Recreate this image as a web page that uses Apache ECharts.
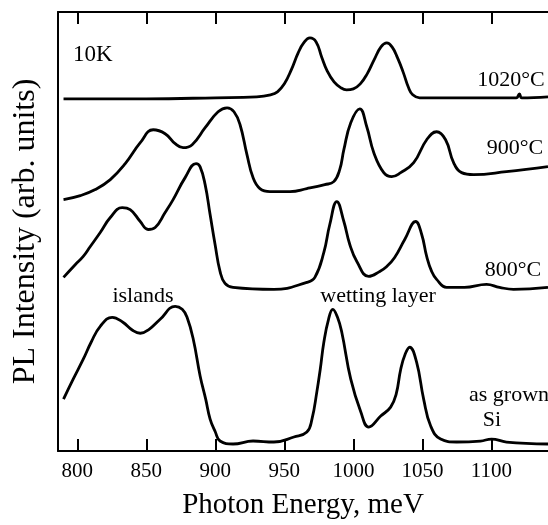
<!DOCTYPE html>
<html>
<head>
<meta charset="utf-8">
<script src="https://cdn.jsdelivr.net/npm/echarts@6/dist/echarts.min.js"></script>
<style>
html,body{margin:0;padding:0;background:#fff;}
#chart{width:548px;height:525px;}
</style>
</head>
<body>
<div id="chart"></div>
<script>
// Photon energy tick values (meV)
var xTicks = [800, 850, 900, 950, 1000, 1050, 1100];

// 1020°C anneal
var energy1020 = [790, 850, 900, 930, 940, 945, 950, 955, 960, 964, 968.5, 973, 977, 981, 986, 991, 995, 1000, 1005, 1010, 1015, 1020, 1024.2, 1028, 1032, 1036, 1040, 1043, 1048, 1070, 1100, 1118, 1120.3, 1122, 1141];
var pl1020 = [353, 353, 354, 355, 357, 360, 368, 382, 399, 409, 414, 410, 395, 381, 370, 364, 362, 363, 368, 378, 392, 405, 409, 405, 394, 380, 364, 357, 354, 354, 354, 354, 358, 354, 355];

// 900°C anneal
var energy900 = [790, 802.2, 813, 823.9, 834.7, 845.6, 855, 863.6, 870.9, 876.6, 883.2, 892.6, 902, 908.5, 913.5, 917.9, 922.9, 927.3, 932.3, 939.6, 954.1, 966.3, 979.3, 985.8, 990.1, 993.1, 998.1, 1004.6, 1009.7, 1014.8, 1022, 1027.8, 1034.3, 1043.7, 1053.1, 1060.3, 1066.8, 1072.6, 1078.4, 1087.1, 1110.9, 1141];
var pl900 = [252, 256, 262, 272, 288, 309, 322, 318, 308, 304, 307, 324, 340, 344, 340, 327, 297, 274, 263, 260, 260, 263, 267, 270, 282, 302, 329, 343, 325, 299, 279, 275, 279, 289, 312, 320, 312, 289, 279, 277, 280, 285];

// 800°C anneal
var energy800 = [790, 798.6, 804.3, 809.4, 816.6, 823.9, 832.5, 838.3, 845.6, 851.3, 856.4, 863.6, 869.4, 878.1, 886, 888.9, 892.6, 896.2, 899.8, 903.4, 907, 912.8, 942.4, 966.3, 972.1, 978.6, 982.9, 988, 993.1, 997.4, 1002.5, 1011.1, 1019.1, 1024.2, 1029.9, 1037.2, 1045.1, 1049.5, 1053.1, 1056.7, 1060.3, 1067.5, 1080.5, 1096.5, 1105.9, 1116, 1141];
var pl800 = [174, 187, 195, 205, 219, 234, 244, 242, 230, 222, 224, 239, 252, 274, 288, 285, 267, 237, 207, 180, 168, 164, 162, 169, 174, 199, 227, 250, 230, 207, 190, 175, 180, 185, 194, 212, 230, 217, 195, 180, 172, 164, 164, 167, 164, 162, 164];

// as grown
var energyGrown = [790, 797, 804.3, 810, 816.6, 825.3, 833, 840, 845.6, 852, 860, 870.9, 876, 879.5, 884, 889, 893, 896.2, 900, 903.4, 912.8, 927.3, 942.4, 956.9, 966.3, 970, 973.5, 976, 978.6, 982, 985.1, 988.5, 991.6, 998.1, 1005.4, 1011.1, 1019.8, 1027, 1031, 1034.3, 1037.5, 1040.8, 1045.8, 1050.9, 1056, 1063.2, 1074.8, 1092.1, 1100.1, 1110.9, 1141];
var plGrown = [52, 72, 92, 109, 125, 134, 129, 121, 118, 122, 132, 145, 142, 134, 112, 75, 52, 32, 19, 10, 7, 10, 9, 14, 19, 32, 59, 82, 109, 132, 142, 134, 119, 72, 39, 24, 35, 44, 57, 82, 97, 104, 89, 52, 25, 12, 9, 10, 12, 9, 7];

function pairs(xs, ys) {
  var out = [];
  for (var i = 0; i < xs.length; i++) out.push([xs[i], ys[i]]);
  return out;
}

var SERIF = '"Liberation Serif", "DejaVu Serif", serif';

function curve(name, xs, ys) {
  return {
    name: name,
    type: 'line',
    data: pairs(xs, ys),
    smooth: 0.45,
    showSymbol: false,
    symbol: 'none',
    lineStyle: { color: '#000', width: 2.8 },
    animation: false
  };
}

function label(text, x, y, size, align) {
  return {
    type: 'text',
    x: x, y: y,
    style: {
      text: text,
      font: size + 'px ' + SERIF,
      fill: '#000',
      align: align || 'center',
      verticalAlign: 'middle'
    }
  };
}

var chart = echarts.init(document.getElementById('chart'), null, { renderer: 'canvas' });
chart.setOption({
  animation: false,
  backgroundColor: '#fff',
  grid: { left: 58, right: 0, top: 12, bottom: 73, containLabel: false },
  xAxis: [
    {
      type: 'value',
      position: 'bottom',
      min: 786, max: 1141,
      axisLine: { show: true, lineStyle: { color: '#000', width: 2 } },
      axisTick: { show: true, inside: true, length: 12, lineStyle: { color: '#000', width: 2 }, customValues: xTicks },
      axisLabel: {
        show: true, customValues: xTicks, color: '#000', fontSize: 21, fontFamily: SERIF, margin: 10,
        formatter: function (v) { return String(v); }
      },
      splitLine: { show: false },
      name: 'Photon Energy, meV',
      nameLocation: 'middle',
      nameGap: 40,
      nameTextStyle: { color: '#000', fontSize: 29, fontFamily: SERIF }
    },
    {
      type: 'value',
      position: 'top',
      min: 786, max: 1141,
      axisLine: { show: true, lineStyle: { color: '#000', width: 2 } },
      axisTick: { show: true, inside: true, length: 12, lineStyle: { color: '#000', width: 2 }, customValues: xTicks },
      axisLabel: { show: false },
      splitLine: { show: false }
    }
  ],
  yAxis: {
    type: 'value',
    min: 0, max: 440,
    axisLine: { show: true, lineStyle: { color: '#000', width: 2 } },
    axisTick: { show: false },
    axisLabel: { show: false },
    splitLine: { show: false },
    name: 'PL Intensity (arb. units)',
    nameLocation: 'middle',
    nameGap: 16,
    nameTextStyle: { color: '#000', fontSize: 32, fontFamily: SERIF }
  },
  series: [
    curve('1020°C', energy1020, pl1020),
    curve('900°C', energy900, pl900),
    curve('800°C', energy800, pl800),
    curve('as grown', energyGrown, plGrown)
  ],
  graphic: [
    label('10K', 73, 55, 23, 'left'),
    label('1020°C', 511, 80, 22),
    label('900°C', 515, 148, 22),
    label('800°C', 513, 270, 22),
    label('islands', 143, 296, 22),
    label('wetting layer', 378, 296, 22),
    label('as grown', 469, 395, 22, 'left'),
    label('Si', 492, 420, 22)
  ]
});
</script>
</body>
</html>
